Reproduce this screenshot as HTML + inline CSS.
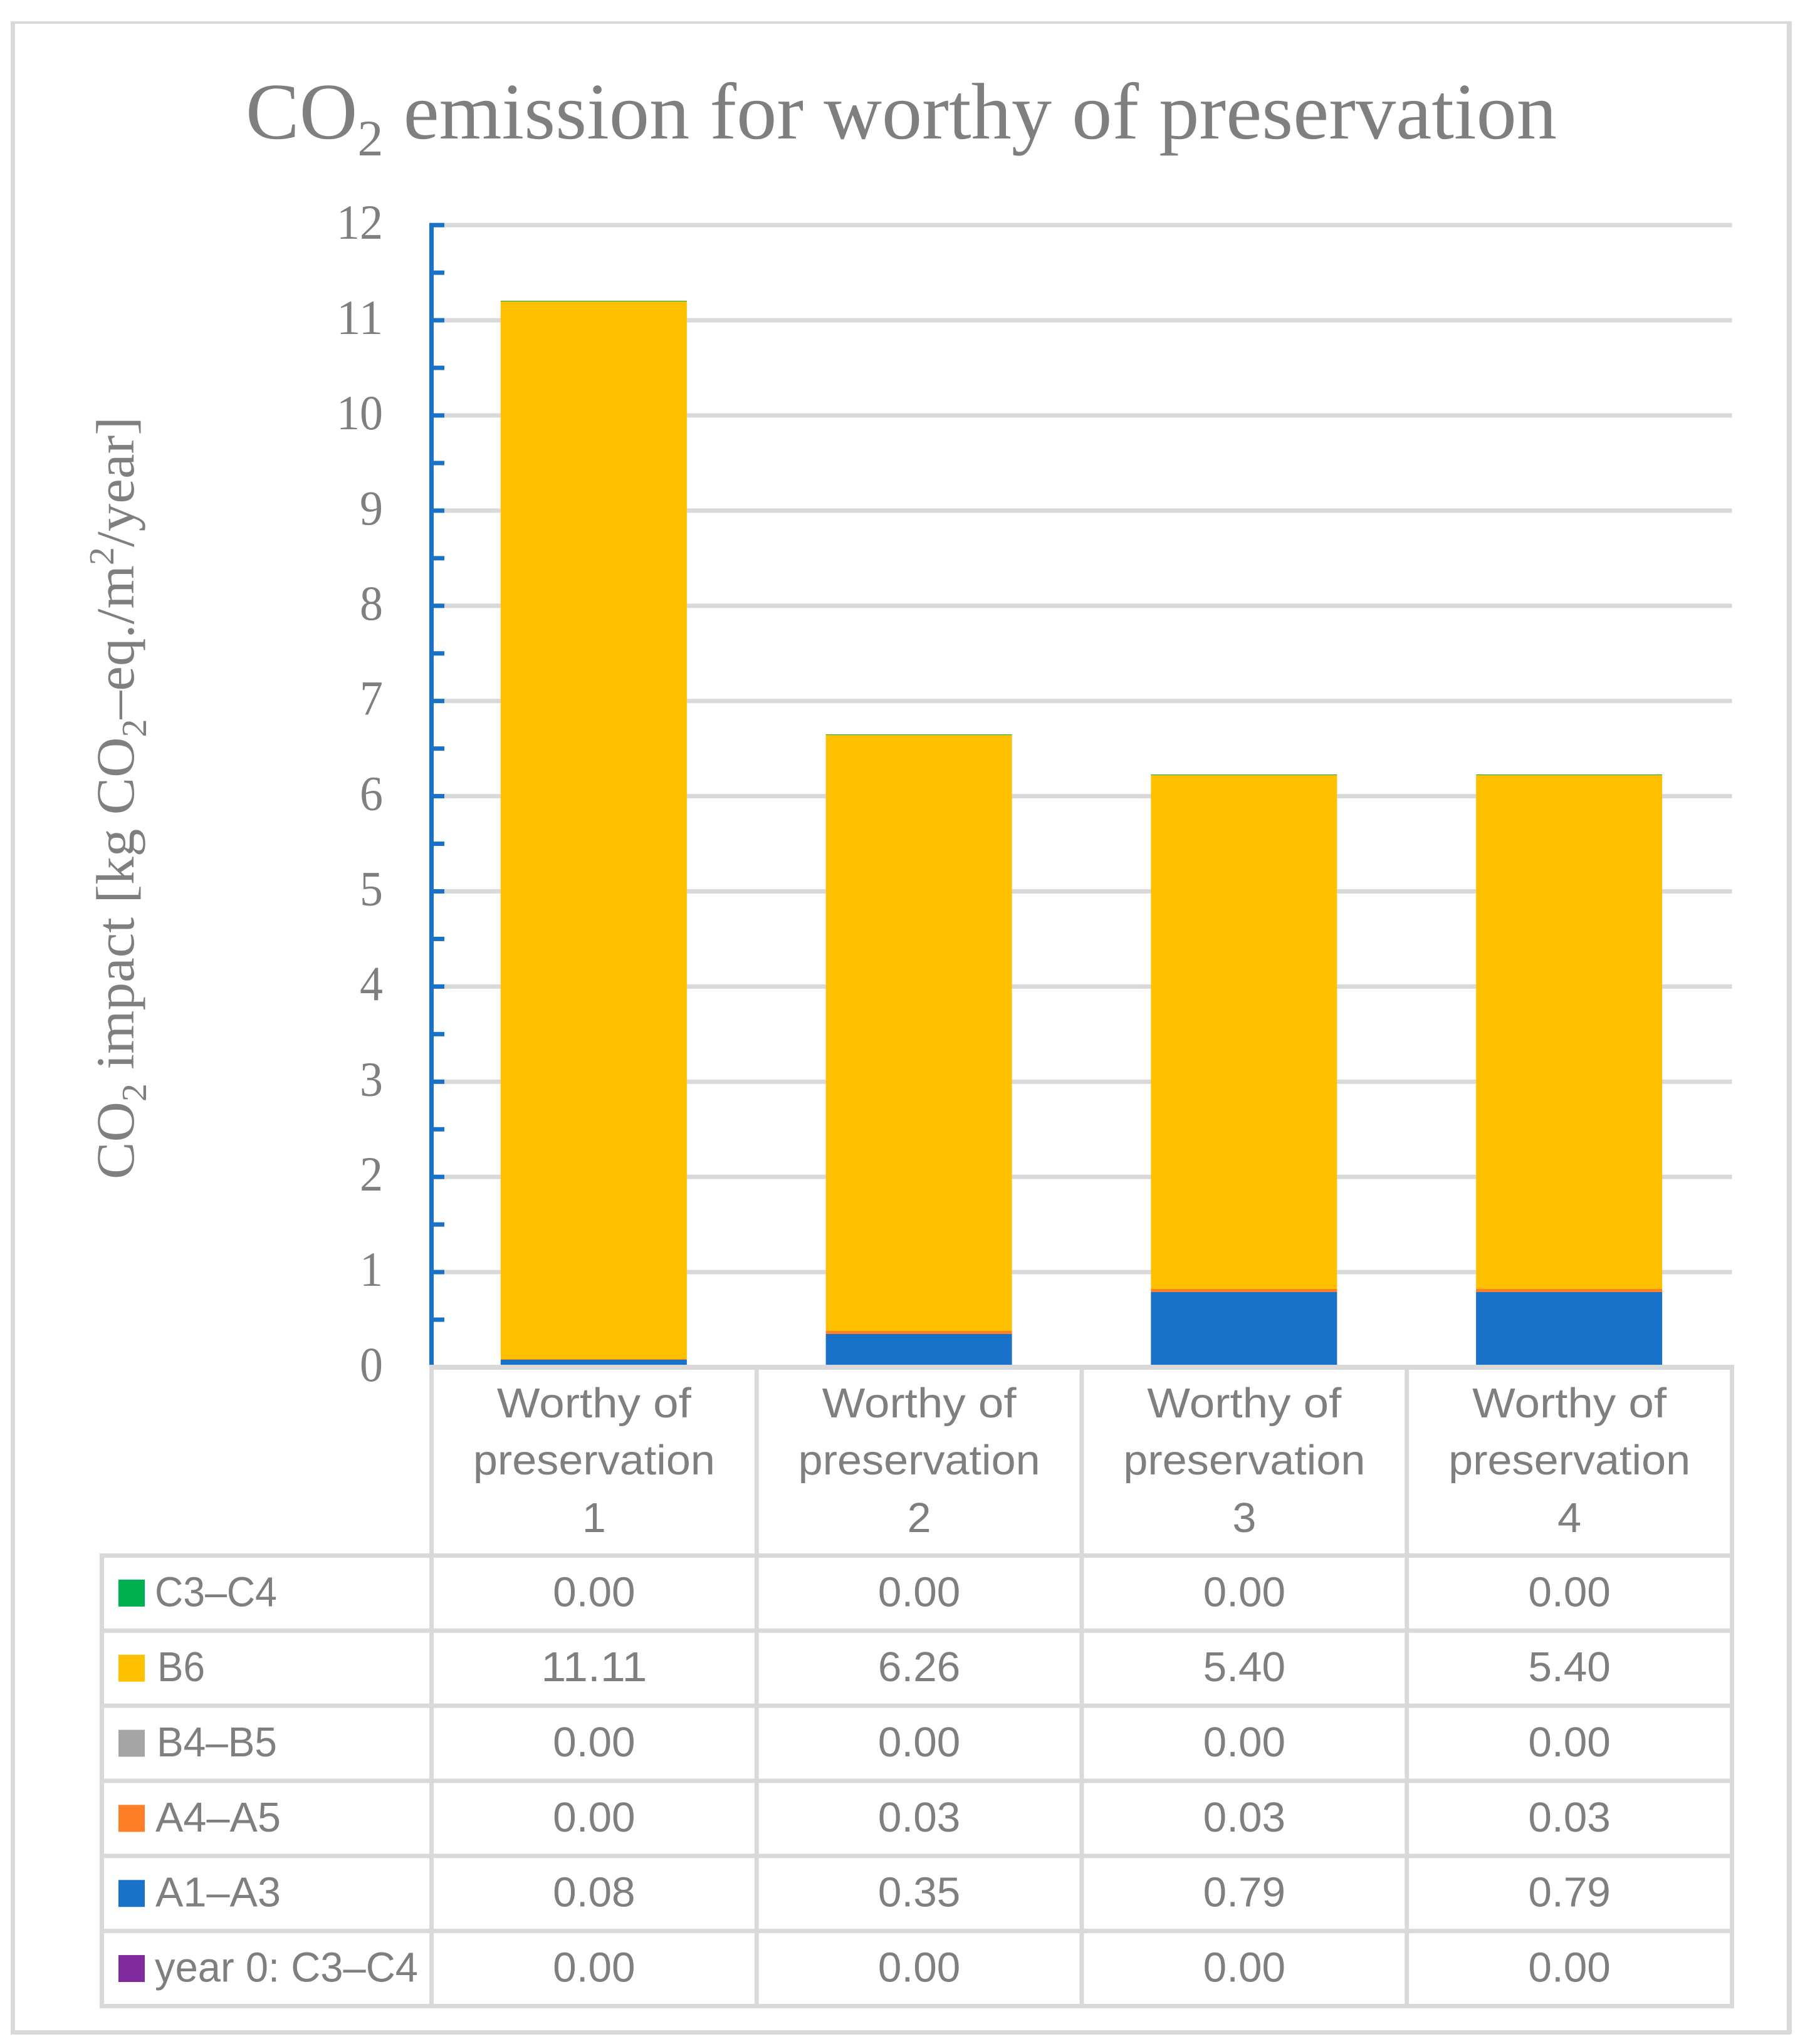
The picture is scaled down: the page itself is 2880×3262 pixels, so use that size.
<!DOCTYPE html>
<html lang="en">
<head>
<meta charset="utf-8">
<title>CO2 emission for worthy of preservation</title>
<style>
html,body{margin:0;padding:0;background:#fff;width:2880px;height:3262px;overflow:hidden}
svg{display:block}
.serif{font-family:"Liberation Serif",serif;fill:#7f7f7f}
.sans{font-family:"Liberation Sans",sans-serif;fill:#7f7f7f}
</style>
</head>
<body>
<svg id="chart" xmlns="http://www.w3.org/2000/svg" width="2880" height="3262" viewBox="0 0 2880 3262">
  <g fill="#d9d9d9">
    <rect x="17" y="34" width="2842" height="4"/>
    <rect x="17" y="34" width="7" height="3213"/>
    <rect x="2851" y="34" width="8" height="3212"/>
    <rect x="17" y="3240" width="2840" height="7"/>
  </g>
  <text class="serif" x="392" y="221" font-size="128" textLength="2092" lengthAdjust="spacingAndGlyphs">CO<tspan font-size="82" dy="27">2</tspan><tspan dy="-27"> emission for worthy of preservation</tspan></text>
  <text class="serif" transform="translate(213,1882) rotate(-90)" x="0" y="0" font-size="86" textLength="1217" lengthAdjust="spacingAndGlyphs">CO<tspan font-size="56" dy="20">2</tspan><tspan dy="-20"> impact [kg CO</tspan><tspan font-size="56" dy="20">2</tspan><tspan dy="-20">–eq./m</tspan><tspan font-size="56" dy="-32">2</tspan><tspan dy="32">/year]</tspan></text>
  <g id="grid"></g>
  <g id="bars"></g>
  <g id="axis"></g>
  <g id="table"></g>
</svg>
<script>
var categories = ["Worthy of preservation 1", "Worthy of preservation 2", "Worthy of preservation 3", "Worthy of preservation 4"];
var categoryLines = [["Worthy of", "preservation", "1"], ["Worthy of", "preservation", "2"], ["Worthy of", "preservation", "3"], ["Worthy of", "preservation", "4"]];
var yTicks = [0, 1, 2, 3, 4, 5, 6, 7, 8, 9, 10, 11, 12];
var yMinorTicks = [0.5, 1.5, 2.5, 3.5, 4.5, 5.5, 6.5, 7.5, 8.5, 9.5, 10.5, 11.5];
var seriesNames = ["C3–C4", "B6", "B4–B5", "A4–A5", "A1–A3", "year 0: C3–C4"];
var seriesColors = ["#00b050", "#ffc000", "#a5a5a5", "#ff7f27", "#1872c9", "#7f2a9f"];
var c3c4 = [0.0049, 0.0049, 0.0049, 0.0049];
var b6 = [11.11, 6.26, 5.40, 5.40];
var b4b5 = [0, 0, 0, 0];
var a4a5 = [0.0049, 0.03, 0.03, 0.03];
var a1a3 = [0.08, 0.35, 0.79, 0.79];
var year0c3c4 = [0, 0, 0, 0];

var NS = "http://www.w3.org/2000/svg";
var seriesValues = [c3c4, b6, b4b5, a4a5, a1a3, year0c3c4];
var plotBottom = 2182, unit = 151.9;
var colLeft = 688.5, colWidth = 518.75, tableLeft = 162.5;
var rowTop = 2482.5, rowHeight = 119.83, barWidth = 297;
var GRID = "#d9d9d9", AXIS = "#1872c9";
function yScale(v) { return plotBottom - v * unit; }
function colCenter(i) { return colLeft + colWidth * (i + 0.5); }
function barCenter(i) { return colCenter(i) - 0.5; }
function node(tag, parent) { var el = document.createElementNS(NS, tag); parent.appendChild(el); return el; }
function rect(parent, x, y, w, h, fill) {
  var r = node("rect", parent);
  r.setAttribute("x", x); r.setAttribute("y", y); r.setAttribute("width", w); r.setAttribute("height", h); r.setAttribute("fill", fill);
  return r;
}
function label(parent, cls, x, y, size, anchor, str, len) {
  var t = node("text", parent);
  t.setAttribute("class", cls); t.setAttribute("x", x); t.setAttribute("y", y); t.setAttribute("font-size", size);
  t.setAttribute("text-anchor", anchor);
  if (len) { t.setAttribute("textLength", len); t.setAttribute("lengthAdjust", "spacingAndGlyphs"); }
  t.textContent = str;
  return t;
}
function valueWidth(s) { var dots = s.split(".").length - 1; return (s.length - dots) * 37.5 + dots * 19; }

var grid = document.getElementById("grid");
yTicks.forEach(function (v) {
  if (v === 0) return;
  var g = rect(grid, colLeft, yScale(v) - 3.5, colWidth * 4, 7, GRID);
  
  
});

var bars = document.getElementById("bars");
categories.forEach(function (cat, i) {
  var base = 0;
  for (var s = seriesValues.length - 1; s >= 0; s--) {
    var val = seriesValues[s][i];
    if (val <= 0) continue;
    var y0 = Math.round(yScale(base));
    var y1 = Math.min(Math.round(yScale(base + val)), y0 - 1);
    var b = rect(bars, barCenter(i) - barWidth / 2, y1, barWidth, y0 - y1, seriesColors[s]);
    
    
    base += val;
  }
});

var axis = document.getElementById("axis");
var axisLine = rect(axis, 685, yScale(12) - 3.5, 7, plotBottom - yScale(12) + 3.5, AXIS);


yMinorTicks.forEach(function (v) {
  var m = rect(axis, 692, yScale(v) - 3.5, 17, 7, AXIS);
  
  
});
yTicks.forEach(function (v) {
  if (v > 0) {
    var k = rect(axis, 692, yScale(v) - 3.5, 17, 7, AXIS);
    
    
  }
  var s = String(v);
  var lab = label(axis, "serif", 611, yScale(v) + 22, 78, "end", s, s.length * 37);
  
  
});

var table = document.getElementById("table");
var rightEdge = colLeft + colWidth * 4;
var rowBottom = rowTop + rowHeight * seriesNames.length;
function tableLine(x, y, w, h, name) {
  var l = rect(table, x, y, w, h, GRID);
  
  
}
tableLine(colLeft - 3.5, plotBottom - 4, colWidth * 4 + 7, 8, 'table-top-line');
for (var c = 0; c <= 4; c++) {
  tableLine(colLeft + colWidth * c - 3.5, plotBottom, 7, rowBottom - plotBottom + 3.5, 'table-column-line');
}
tableLine(tableLeft - 3.5, rowTop, 7, rowBottom - rowTop + 3.5, 'table-left-line');
for (var r = 0; r <= seriesNames.length; r++) {
  tableLine(tableLeft - 3.5, rowTop + rowHeight * r - 3.5, rightEdge - tableLeft + 7, 7, 'table-row-line');
}
var catWidths = [310, 386, 38];
var catBaselines = [2262, 2353, 2445];
categoryLines.forEach(function (lines, i) {
  lines.forEach(function (str, j) {
    var t = label(table, "sans", colCenter(i), catBaselines[j], 67, "middle", str, catWidths[j]);
    
    
  });
});
var nameWidths = [195, 76, 192, 200, 200, 420];
var nameStarts = [247, 251, 250, 248, 248, 247];
seriesNames.forEach(function (name, s) {
  var cy = rowTop + rowHeight * (s + 0.5);
  var sw = rect(table, 189, cy - 21.5, 42, 43, seriesColors[s]);
  
  
  var nm = label(table, "sans", nameStarts[s], cy + 21, 67, "start", name, nameWidths[s]);
  
  
  categories.forEach(function (cat, i) {
    var str = seriesValues[s][i].toFixed(2);
    var v = label(table, "sans", colCenter(i), cy + 21, 67, "middle", str, valueWidth(str));
    
    
  });
});
</script>
</body>
</html>
